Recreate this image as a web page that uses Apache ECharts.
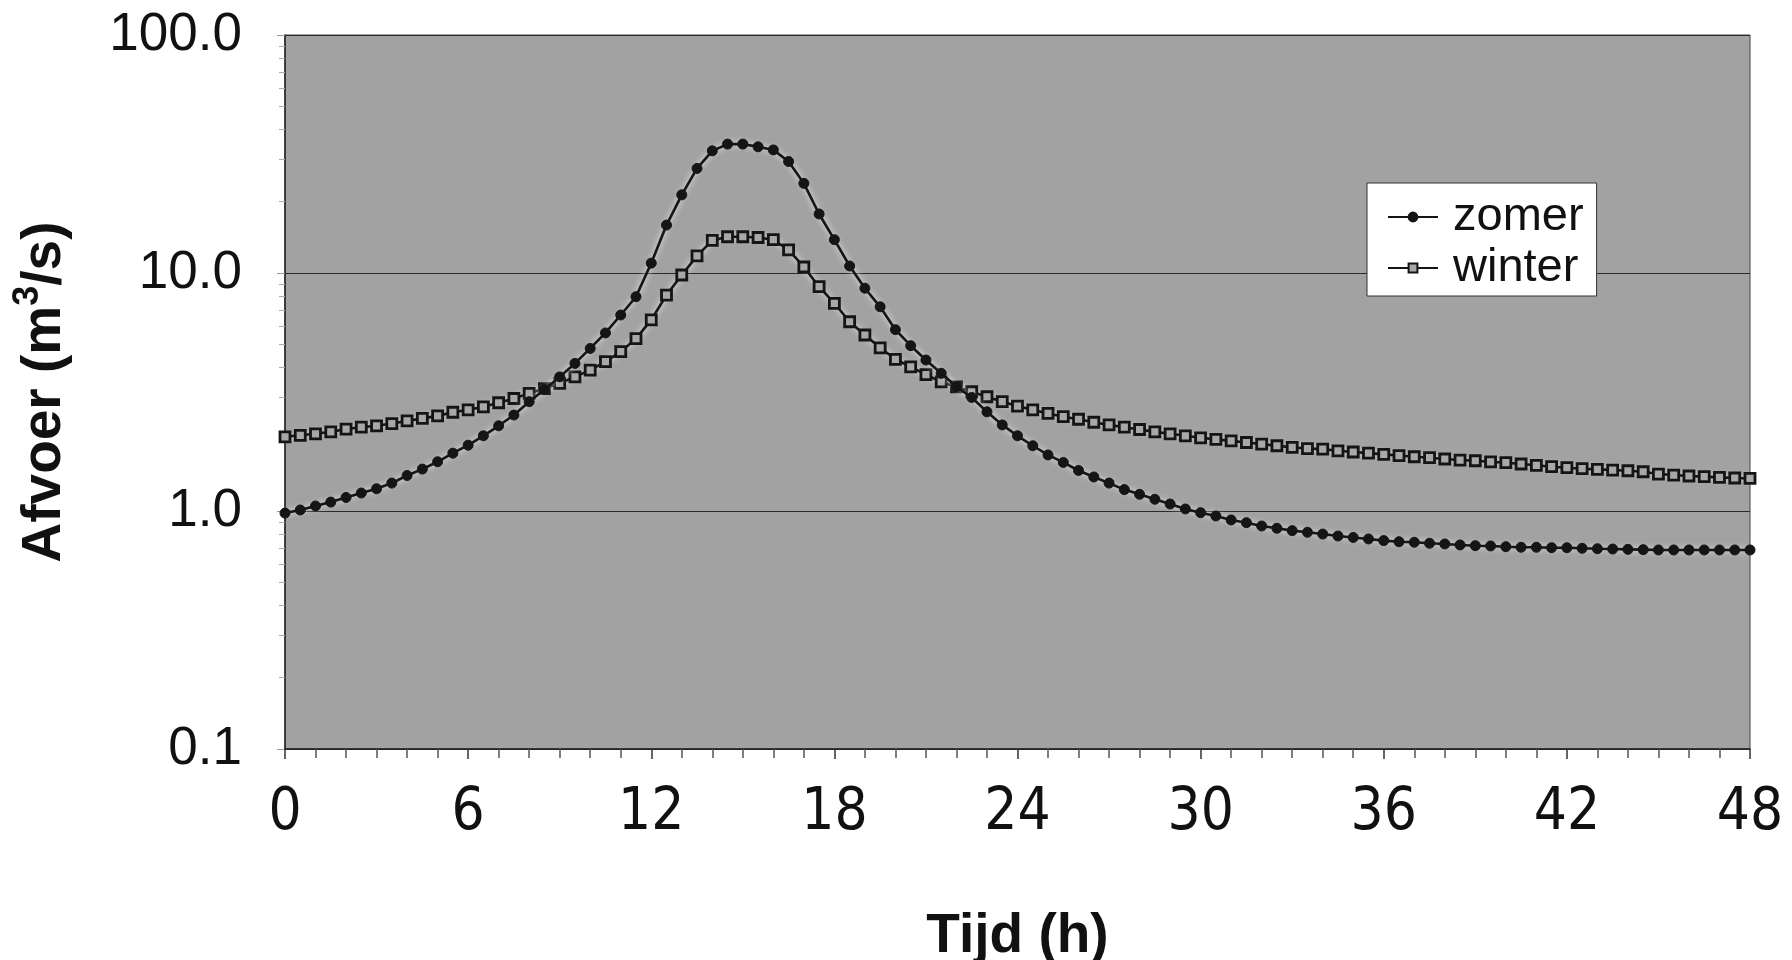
<!DOCTYPE html>
<html>
<head>
<meta charset="utf-8">
<script src="https://cdn.jsdelivr.net/npm/echarts@6/dist/echarts.min.js"></script>
<style>
  html, body { margin: 0; padding: 0; background: #ffffff; }
  #chart { width: 1792px; height: 960px; }
</style>
</head>
<body>
<div id="chart"></div>
<script>
// Time in hours (every half hour)
const hours = [0,0.5,1,1.5,2,2.5,3,3.5,4,4.5,5,5.5,6,6.5,7,7.5,8,8.5,9,9.5,10,10.5,11,11.5,12,12.5,13,13.5,14,14.5,15,15.5,16,16.5,17,17.5,18,18.5,19,19.5,20,20.5,21,21.5,22,22.5,23,23.5,24,24.5,25,25.5,26,26.5,27,27.5,28,28.5,29,29.5,30,30.5,31,31.5,32,32.5,33,33.5,34,34.5,35,35.5,36,36.5,37,37.5,38,38.5,39,39.5,40,40.5,41,41.5,42,42.5,43,43.5,44,44.5,45,45.5,46,46.5,47,47.5,48];

// Afvoer (m3/s) - zomer
const zomer = [0.98,1.01,1.05,1.09,1.14,1.19,1.24,1.31,1.41,1.50,1.61,1.75,1.89,2.07,2.28,2.53,2.88,3.24,3.66,4.17,4.82,5.60,6.66,7.95,11.0,15.9,21.3,27.5,32.6,34.8,34.8,33.9,32.9,29.4,23.8,17.7,13.8,10.7,8.63,7.21,5.78,4.95,4.31,3.79,3.33,3.00,2.61,2.30,2.07,1.88,1.72,1.60,1.48,1.39,1.31,1.23,1.175,1.12,1.07,1.02,0.984,0.953,0.917,0.893,0.865,0.846,0.827,0.814,0.800,0.785,0.774,0.763,0.751,0.743,0.739,0.732,0.727,0.720,0.715,0.713,0.708,0.704,0.704,0.701,0.701,0.697,0.694,0.692,0.690,0.688,0.686,0.686,0.686,0.686,0.686,0.686,0.686];

// Afvoer (m3/s) - winter
const winter = [2.05,2.08,2.11,2.15,2.21,2.25,2.28,2.33,2.39,2.45,2.51,2.60,2.66,2.74,2.85,2.97,3.12,3.27,3.44,3.66,3.91,4.24,4.67,5.30,6.35,8.08,9.81,11.8,13.7,14.2,14.2,14.1,13.8,12.5,10.6,8.76,7.46,6.24,5.49,4.85,4.34,4.03,3.74,3.49,3.32,3.17,3.02,2.88,2.76,2.66,2.57,2.49,2.43,2.36,2.30,2.25,2.20,2.15,2.11,2.07,2.03,2.00,1.97,1.94,1.91,1.88,1.85,1.83,1.82,1.79,1.77,1.75,1.73,1.71,1.69,1.675,1.654,1.637,1.626,1.61,1.596,1.576,1.556,1.535,1.52,1.506,1.496,1.486,1.476,1.462,1.43,1.416,1.403,1.394,1.385,1.376,1.37];

const seriesNames = ['zomer', 'winter'];
const xTickLabels = [0, 6, 12, 18, 24, 30, 36, 42, 48];
const yTickLabels = ['0.1', '1.0', '10.0', '100.0'];
const yMinorTickValues = [0.2,0.3,0.4,0.5,0.6,0.7,0.8,0.9,2,3,4,5,6,7,8,9,20,30,40,50,60,70,80,90];

const toPairs = (vals) => hours.map((h, i) => [h, vals[i]]);

const chart = echarts.init(document.getElementById('chart'), null, { renderer: 'canvas' });

const lineColor = '#151515';

chart.setOption({
  backgroundColor: '#ffffff',
  animation: false,
  grid: {
    left: 285, right: 42, top: 35, bottom: 211,
    outerBoundsMode: 'none',
    containLabel: false,
    show: true,
    backgroundColor: '#a2a2a2',
    borderColor: '#444',
    borderWidth: 1
  },
  legend: {
    orient: 'vertical',
    left: 1367,
    top: 183,
    padding: [10, 13, 4, 20],
    backgroundColor: '#ffffff',
    borderColor: '#333',
    borderWidth: 1,
    itemWidth: 50,
    itemHeight: 11,
    itemGap: 3,
    data: seriesNames,
    textStyle: {
      fontFamily: 'Liberation Sans, Arial, sans-serif',
      fontSize: 47,
      lineHeight: 48,
      color: '#111',
      padding: [0, 0, 0, 10]
    }
  },
  xAxis: {
    type: 'value',
    min: 0,
    max: 48,
    interval: 6,
    name: 'Tijd (h)',
    nameLocation: 'middle',
    nameGap: 160,
    nameTextStyle: {
      fontFamily: 'Liberation Sans, Arial, sans-serif',
      fontWeight: 'bold',
      fontSize: 55,
      color: '#111'
    },
    axisLine: { show: true, onZero: false, lineStyle: { color: '#222', width: 1.5 } },
    axisTick: { show: true, inside: false, length: 10, lineStyle: { color: '#333', width: 1.5 } },
    minorTick: { show: true, splitNumber: 6, length: 9, lineStyle: { color: '#555', width: 1.5 } },
    splitLine: { show: false },
    axisLabel: {
      margin: 36,
      fontFamily: 'Liberation Sans Narrow, Arial Narrow, DejaVu Sans Condensed, sans-serif',
      fontSize: 58,
      color: '#111',
      formatter: (v) => (xTickLabels.indexOf(v) >= 0 ? String(v) : '')
    }
  },
  yAxis: [
    {
      type: 'log',
      logBase: 10,
      min: 0.1,
      max: 100,
      name: '{b|Afvoer (m}{s|3}{b|/s)}',
      nameLocation: 'middle',
      nameGap: 205,
      nameRotate: 90,
      nameTextStyle: {
        rich: {
          b: { fontFamily: 'Liberation Sans, Arial, sans-serif', fontWeight: 'bold', fontSize: 55, color: '#111' },
          s: { fontFamily: 'Liberation Sans, Arial, sans-serif', fontWeight: 'bold', fontSize: 36, color: '#111', verticalAlign: 'top', padding: [0, 0, 34, 0] }
        }
      },
      axisLine: { show: true, lineStyle: { color: '#222', width: 1.5 } },
      axisTick: { show: true, inside: false, length: 8, lineStyle: { color: '#999', width: 1 } },
      minorTick: { show: false },
      splitLine: { show: true, lineStyle: { color: '#2a2a2a', width: 1.2 } },
      axisLabel: {
        margin: 43,
        fontFamily: 'Liberation Sans, Arial, sans-serif',
        fontSize: 53,
        color: '#111',
        formatter: (v) => {
          const s = v.toFixed(1);
          return yTickLabels.indexOf(s) >= 0 ? s : '';
        }
      }
    },
    {
      type: 'log',
      logBase: 10,
      min: 0.1,
      max: 100,
      position: 'left',
      axisLine: { show: false },
      axisLabel: { show: false },
      splitLine: { show: false },
      axisTick: { show: true, inside: false, length: 6, customValues: yMinorTickValues, lineStyle: { color: '#aaa', width: 1 } }
    }
  ],
  series: [
    {
      name: seriesNames[0],
      type: 'line',
      data: toPairs(zomer),
      symbol: 'circle',
      symbolSize: 10,
      showSymbol: true,
      lineStyle: { color: lineColor, width: 2.6, shadowColor: 'rgba(255,255,255,0.9)', shadowBlur: 6 },
      itemStyle: { color: lineColor, borderColor: lineColor, borderWidth: 1 },
      z: 3
    },
    {
      name: seriesNames[1],
      type: 'line',
      data: toPairs(winter),
      symbol: 'rect',
      symbolSize: 10,
      showSymbol: true,
      lineStyle: { color: lineColor, width: 2.6, shadowColor: 'rgba(255,255,255,0.9)', shadowBlur: 6 },
      itemStyle: { color: '#a8a8a8', borderColor: lineColor, borderWidth: 2.8 },
      z: 2
    }
  ]
});
</script>
</body>
</html>
